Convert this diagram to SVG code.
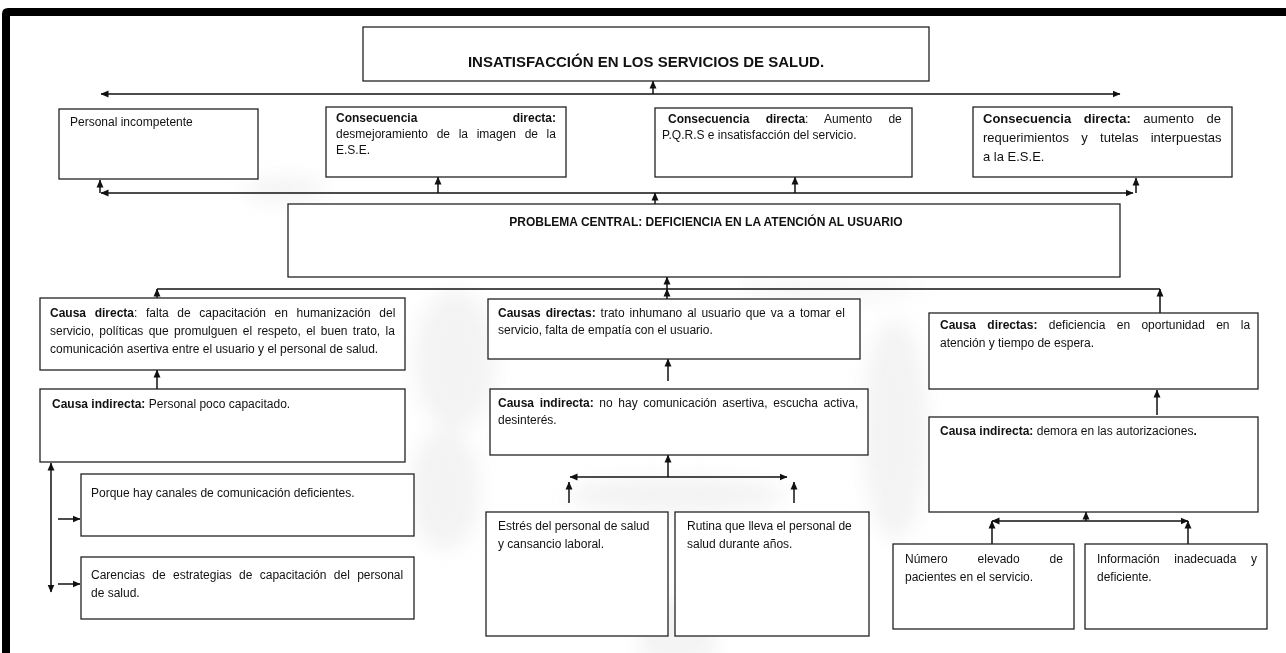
<svg xmlns="http://www.w3.org/2000/svg" width="1286" height="653" viewBox="0 0 1286 653">
<style>
.b{fill:#fff;stroke:#222;stroke-width:1.3}
.t{font-family:"Liberation Sans",Arial,sans-serif;font-size:12px;fill:#111}
.d{font-size:13px}
.bd{font-weight:bold}
.c{fill:none;stroke:#111;stroke-width:1.5}
.w{fill:#cfcfcf;opacity:0.25}
</style>
<defs>
<marker id="ah" viewBox="0 0 8 8" refX="7.5" refY="4" markerWidth="8" markerHeight="8" markerUnits="userSpaceOnUse" orient="auto-start-reverse"><path d="M0,0.5 L8,4 L0,7.5 z" fill="#111"/></marker>
<filter id="bl" x="-50%" y="-50%" width="200%" height="200%"><feGaussianBlur stdDeviation="10"/></filter>
</defs>
<rect width="1286" height="653" fill="#fff"/>
<g id="watermark" filter="url(#bl)">
<ellipse class="w" cx="455" cy="360" rx="40" ry="70"/>
<ellipse class="w" cx="895" cy="430" rx="32" ry="110"/>
<ellipse class="w" cx="675" cy="495" rx="110" ry="18"/>
<rect class="w" x="640" y="600" width="75" height="60"/>
<ellipse class="w" cx="285" cy="190" rx="40" ry="12"/>
<ellipse class="w" cx="445" cy="490" rx="35" ry="60"/>
<ellipse class="w" cx="830" cy="290" rx="90" ry="8"/>
</g>
<path d="M2,653 L2,14 Q2,8 8,8 L1286,8 L1286,16 L10,16 L10,653 Z" fill="#000"/>

<g id="connectors" class="c">
<path d="M653,94 V81" marker-end="url(#ah)"/>
<path d="M101,94 H1120" marker-start="url(#ah)" marker-end="url(#ah)"/>
<path d="M101,193 H1133" marker-start="url(#ah)" marker-end="url(#ah)"/>
<path d="M100,193 V180" marker-end="url(#ah)"/>
<path d="M1136,193 V178" marker-end="url(#ah)"/>
<path d="M438,193 V177" marker-end="url(#ah)"/>
<path d="M795,193 V177" marker-end="url(#ah)"/>
<path d="M655,204 V193" marker-end="url(#ah)"/>
<path d="M157,289 H1160"/>
<path d="M667,289 V277" marker-end="url(#ah)"/>
<path d="M667,299 V289" marker-end="url(#ah)"/>
<path d="M157,298 V289" marker-end="url(#ah)"/>
<path d="M1160,313 V289" marker-end="url(#ah)"/>
<path d="M157,389 V370" marker-end="url(#ah)"/>
<path d="M668,381 V359" marker-end="url(#ah)"/>
<path d="M1157,415 V390" marker-end="url(#ah)"/>
<path d="M51,463 V592" marker-start="url(#ah)" marker-end="url(#ah)"/>
<path d="M58,519 H80" marker-end="url(#ah)"/>
<path d="M58,584 H80" marker-end="url(#ah)"/>
<path d="M668,477 V455" marker-end="url(#ah)"/>
<path d="M570,477 H787" marker-start="url(#ah)" marker-end="url(#ah)"/>
<path d="M569,503 V482" marker-end="url(#ah)"/>
<path d="M794,503 V482" marker-end="url(#ah)"/>
<path d="M1086,521 V512" marker-end="url(#ah)"/>
<path d="M992,521 H1188" marker-start="url(#ah)" marker-end="url(#ah)"/>
<path d="M992,544 V521" marker-end="url(#ah)"/>
<path d="M1188,544 V521" marker-end="url(#ah)"/>
</g>

<g id="n-title">
<rect class="b" x="363" y="27" width="566" height="54"/>
<text class="t bd" x="646" y="67" text-anchor="middle" style="font-size:15px">INSATISFACCIÓN EN LOS SERVICIOS DE SALUD.</text>
</g>

<g id="n-personal">
<rect class="b" x="59" y="109" width="199" height="70"/>
<text class="t" x="70" y="126">Personal incompetente</text>
</g>

<g id="n-cons1">
<rect class="b" x="326" y="107" width="240" height="70"/>
<text class="t bd" x="336" y="122">Consecuencia</text>
<text class="t bd" x="556" y="122" text-anchor="end">directa:</text>
<text class="t" x="336" y="138" style="word-spacing:5.3px">desmejoramiento de la imagen de la</text>
<text class="t" x="336" y="154">E.S.E.</text>
</g>

<g id="n-cons2">
<rect class="b" x="655" y="108" width="257" height="69"/>
<text class="t" x="668" y="123" style="word-spacing:13px"><tspan class="bd">Consecuencia directa</tspan>: Aumento de</text>
<text class="t" x="662" y="139">P.Q.R.S e insatisfacción del servicio.</text>
</g>

<g id="n-cons3">
<rect class="b" x="973" y="107" width="259" height="70"/>
<text class="t d" x="983" y="123" style="word-spacing:9px"><tspan class="bd">Consecuencia directa:</tspan> aumento de</text>
<text class="t d" x="983" y="142" style="word-spacing:8.7px">requerimientos y tutelas interpuestas</text>
<text class="t d" x="983" y="161">a la E.S.E.</text>
</g>

<g id="n-problema">
<rect class="b" x="288" y="204" width="832" height="73"/>
<text class="t bd" x="706" y="226" text-anchor="middle">PROBLEMA CENTRAL: DEFICIENCIA EN LA ATENCIÓN AL USUARIO</text>
</g>

<g id="n-causa1">
<rect class="b" x="40" y="298" width="365" height="72"/>
<text class="t" x="50" y="317" style="word-spacing:5.3px"><tspan class="bd">Causa directa</tspan>: falta de capacitación en humanización del</text>
<text class="t" x="50" y="335" style="word-spacing:2px">servicio, políticas que promulguen el respeto, el buen trato, la</text>
<text class="t" x="50" y="353">comunicación asertiva entre el usuario y el personal de salud.</text>
</g>

<g id="n-causa2">
<rect class="b" x="488" y="299" width="372" height="60"/>
<text class="t" x="498" y="317" style="word-spacing:1.6px"><tspan class="bd">Causas directas:</tspan> trato inhumano al usuario que va a tomar el</text>
<text class="t" x="498" y="334">servicio, falta de empatía con el usuario.</text>
</g>

<g id="n-causa3">
<rect class="b" x="929" y="313" width="329" height="76"/>
<text class="t" x="940" y="329" style="word-spacing:8px"><tspan class="bd">Causa directas:</tspan> deficiencia en oportunidad en la</text>
<text class="t" x="940" y="347">atención y tiempo de espera.</text>
</g>

<g id="n-ind1">
<rect class="b" x="40" y="389" width="365" height="73"/>
<text class="t" x="52" y="408"><tspan class="bd">Causa indirecta:</tspan> Personal poco capacitado.</text>
</g>

<g id="n-porque">
<rect class="b" x="81" y="474" width="333" height="62"/>
<text class="t" x="91" y="497">Porque hay canales de comunicación deficientes.</text>
</g>

<g id="n-carencias">
<rect class="b" x="81" y="557" width="333" height="62"/>
<text class="t" x="91" y="579" style="word-spacing:4px">Carencias de estrategias de capacitación del personal</text>
<text class="t" x="91" y="597">de salud.</text>
</g>

<g id="n-ind2">
<rect class="b" x="490" y="389" width="378" height="66"/>
<text class="t" x="498" y="407" style="word-spacing:2.3px"><tspan class="bd">Causa indirecta:</tspan> no hay comunicación asertiva, escucha activa,</text>
<text class="t" x="498" y="424">desinterés.</text>
</g>

<g id="n-estres">
<rect class="b" x="486" y="512" width="182" height="124"/>
<text class="t" x="498" y="530">Estrés del personal de salud</text>
<text class="t" x="498" y="548">y cansancio laboral.</text>
</g>

<g id="n-rutina">
<rect class="b" x="675" y="512" width="194" height="124"/>
<text class="t" x="687" y="530">Rutina que lleva el personal de</text>
<text class="t" x="687" y="548">salud durante años.</text>
</g>

<g id="n-ind3">
<rect class="b" x="929" y="417" width="329" height="95"/>
<text class="t" x="940" y="435"><tspan class="bd">Causa indirecta:</tspan> demora en las autorizaciones<tspan class="bd">.</tspan></text>
</g>

<g id="n-numero">
<rect class="b" x="893" y="544" width="181" height="85"/>
<text class="t" x="905" y="563" style="word-spacing:26.6px">Número elevado de</text>
<text class="t" x="905" y="581">pacientes en el servicio.</text>
</g>

<g id="n-info">
<rect class="b" x="1085" y="544" width="182" height="85"/>
<text class="t" x="1097" y="563" style="word-spacing:11.3px">Información inadecuada y</text>
<text class="t" x="1097" y="581">deficiente.</text>
</g>
</svg>
